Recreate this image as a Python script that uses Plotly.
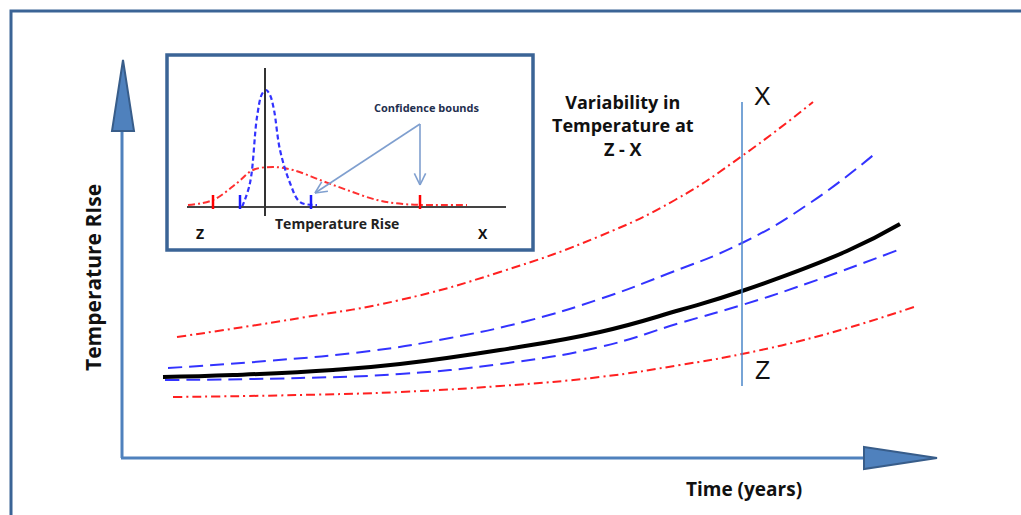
import math
import plotly.graph_objects as go

# ---------------- data (canvas-like units: x right, y down) ----------------
mean_x = [163, 233, 333, 400, 500, 600, 680, 742, 847, 900]
mean_y = [377, 375, 370, 364, 350, 332, 310, 291, 251, 224]

blue_up_x = [168, 267, 370, 450, 527, 600, 667, 742, 810, 877]
blue_up_y = [368, 361, 351, 338, 321, 299, 274, 243, 203, 152]

blue_lo_x = [165, 300, 400, 500, 600, 680, 742, 800, 898]
blue_lo_y = [380, 378, 374, 364, 347, 323, 305, 286, 250]

red_up_x = [177, 300, 400, 500, 600, 675, 742, 813]
red_up_y = [337, 318, 300, 272, 236, 200, 156, 102]

red_lo_x = [173, 300, 400, 500, 600, 680, 742, 830, 917]
red_lo_y = [397, 395, 392, 386, 377, 365, 354, 333, 306]

# inset distributions
inset_blue_x = [242, 250, 257, 262, 266, 270, 274, 280, 290, 300, 317]
inset_blue_y = [207, 183, 117, 94, 90, 95, 110, 150, 183, 202, 205]
inset_red_x = [188, 213, 237, 253, 273, 293, 320, 347, 377, 403, 427, 467]
inset_red_y = [205, 200, 183, 170, 167, 170, 180, 190, 200, 204, 205, 205]
inset_red_ticks = [213, 420]
inset_blue_ticks = [240, 311]

# text
title_lines = ["Variability in", "Temperature at", "Z - X"]
y_label = "Temperature RIse"
x_label = "Time (years)"
inset_label = "Temperature Rise"
conf_label = "Confidence bounds"

W, H = 1021, 515
BORDER = "#3B6496"
AXIS = "#4F81BD"
ARROW_FILL = "#4F81BD"
ARROW_LINE = "#385D8A"
TXT = "#111111"
FONT = "Open Sans"

fig = go.Figure()

def curve(x, y, color, width, dash, smooth=1.3):
    fig.add_trace(go.Scatter(x=x, y=y, mode="lines",
                             line=dict(color=color, width=width, dash=dash, shape="spline", smoothing=smooth),
                             hoverinfo="skip", showlegend=False))

curve(red_up_x, red_up_y, "#FF2020", 2, "9px,4px,2px,4px")
curve(red_lo_x, red_lo_y, "#FF2020", 2, "9px,4px,2px,4px")
curve(blue_up_x, blue_up_y, "#3333FF", 2, "14px,7px")
curve(blue_lo_x, blue_lo_y, "#3333FF", 2, "14px,7px")
curve(mean_x, mean_y, "#000000", 4, "solid")

curve(inset_red_x, inset_red_y, "#FF3030", 2, "7px,3px,2px,3px", 1.0)
curve(inset_blue_x, inset_blue_y, "#3333FF", 2.2, "5px,3px", 1.0)

shapes = []
# outer frame (extends past the canvas on right / bottom)
shapes.append(dict(type="rect", x0=11, y0=11, x1=W + 20, y1=H + 20,
                   line=dict(color=BORDER, width=3), layer="below"))
# inset box
shapes.append(dict(type="rect", x0=167, y0=55, x1=533, y1=250,
                   line=dict(color=BORDER, width=3.5), layer="below"))
# inset axes
shapes.append(dict(type="line", x0=187, y0=207, x1=506, y1=207, line=dict(color="#444444", width=2)))
shapes.append(dict(type="line", x0=265, y0=68, x1=265, y1=216, line=dict(color="#333333", width=2)))
for tx in inset_red_ticks:
    shapes.append(dict(type="line", x0=tx, y0=195, x1=tx, y1=209, line=dict(color="#FF0000", width=2.5)))
for tx in inset_blue_ticks:
    shapes.append(dict(type="line", x0=tx, y0=195, x1=tx, y1=209, line=dict(color="#1A1AFF", width=2.5)))

# main axes
shapes.append(dict(type="line", x0=122, y0=125, x1=122, y1=458, line=dict(color=AXIS, width=3)))
shapes.append(dict(type="line", x0=121, y0=458, x1=866, y1=458, line=dict(color=AXIS, width=3)))
shapes.append(dict(type="path", path="M 123 60 L 134 131 L 112 131 Z",
                   fillcolor=ARROW_FILL, line=dict(color=ARROW_LINE, width=2)))
shapes.append(dict(type="path", path="M 864 447 L 937 458 L 864 469 Z",
                   fillcolor=ARROW_FILL, line=dict(color=ARROW_LINE, width=2)))
# Z-X vertical
shapes.append(dict(type="line", x0=742, y0=102, x1=742, y1=386, line=dict(color="#4A86C8", width=1.5)))

# inset arrows
apex = (420, 124)
heads = [(315, 193), (420, 185)]
ARR = "#7F9FCF"
for hx, hy in heads:
    shapes.append(dict(type="line", x0=apex[0], y0=apex[1], x1=hx, y1=hy, line=dict(color=ARR, width=1.6)))
    dx, dy = apex[0] - hx, apex[1] - hy
    L = math.hypot(dx, dy)
    ux, uy = dx / L, dy / L
    for ang in (0.45, -0.45):
        ca, sa = math.cos(ang), math.sin(ang)
        rx, ry = ux * ca - uy * sa, ux * sa + uy * ca
        shapes.append(dict(type="line", x0=hx, y0=hy, x1=hx + 13 * rx, y1=hy + 13 * ry,
                           line=dict(color=ARR, width=1.6)))

annotations = []
def text(x, y, s, size, bold=True, color=TXT, angle=0, family=FONT):
    annotations.append(dict(x=x, y=y, xref="x", yref="y", text=f"<b>{s}</b>" if bold else s,
                            showarrow=False, textangle=angle, xanchor="center", yanchor="middle",
                            font=dict(family=family, size=size, color=color)))

text(623, 125, "<br>".join(title_lines), 18)
text(762, 96, "X", 25, bold=False, family="Liberation Sans")
text(762, 370, "Z", 25, bold=False, family="Liberation Sans")
text(93, 278, y_label, 21, angle=-90)
text(744, 489, x_label, 19)
text(427, 107, conf_label, 11, color="#1F2F4F")
text(337, 223, inset_label, 14, color="#222222")
text(200, 233, "Z", 14)
text(483, 233, "X", 14)

fig.update_layout(
    width=W, height=H, margin=dict(l=0, r=0, t=0, b=0),
    paper_bgcolor="white", plot_bgcolor="white",
    xaxis=dict(range=[0, W], visible=False, fixedrange=True),
    yaxis=dict(range=[H, 0], visible=False, fixedrange=True),
    shapes=shapes, annotations=annotations, showlegend=False,
)

fig.write_html("out.html")
